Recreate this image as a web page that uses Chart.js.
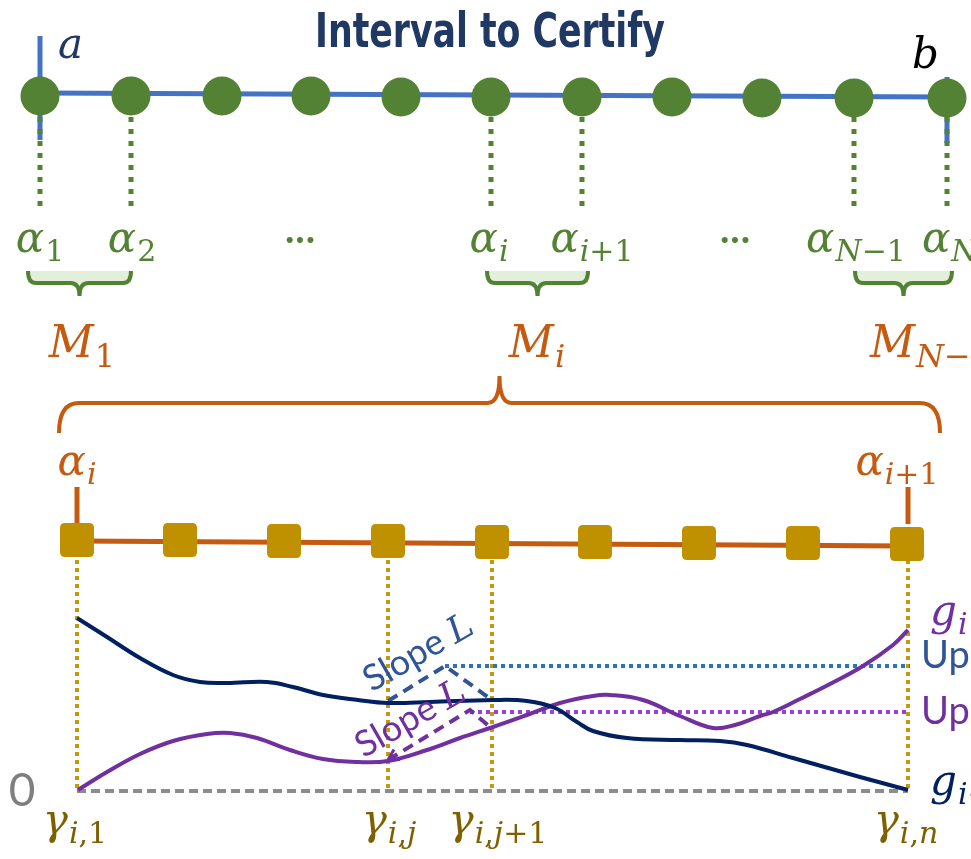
<!DOCTYPE html>
<html lang="en">
<head>
<meta charset="UTF-8">
<title>Interval to Certify</title>
<script src="https://cdn.jsdelivr.net/npm/chart.js@4.4.1/dist/chart.umd.min.js"></script>
<style>
  html, body { margin: 0; padding: 0; background: #fff; }
  #diagram { display: block; }
</style>
</head>
<body>
<canvas id="diagram" width="971" height="859"></canvas>
<script>
// ---- data (diagram units) ----
const alphaX = [40, 131, 222, 311, 401, 491, 582, 672, 762, 854, 947];
const alphaY = [96, 96, 96, 96, 97, 97, 97, 97, 98, 98, 98];
const alphaMarked = [40, 131, 491, 582, 854, 947];   // points with dotted drop lines

const gammaX = [77, 180, 284, 388, 492, 595, 699, 803, 907];
const gammaY = [540, 540, 541, 541, 542, 542, 543, 543, 544];
const gammaMarked = [77, 388, 492, 908];

const gPrevX = [77, 107, 140, 173, 200, 227, 267, 293, 323, 358, 388, 430, 493, 527, 555, 577, 593, 627, 680, 720, 747, 793, 860, 908];
const gPrevY = [618, 637, 658, 675, 682, 683, 682, 687, 695, 700, 703, 702, 700, 701, 708, 722, 731, 738, 740, 741, 745, 758, 777, 790];

const gCurX = [78, 107, 140, 173, 207, 230, 257, 290, 323, 358, 388, 427, 460, 493, 527, 560, 593, 610, 643, 680, 713, 735, 760, 773, 800, 830, 863, 893, 908];
const gCurY = [790, 772, 754, 741, 734, 733, 738, 750, 759, 762, 761, 750, 738, 727, 715, 703, 696, 695, 700, 716, 728, 725, 716, 712, 699, 684, 666, 645, 630];

const zeroLevel = 791;
const upPrev = 666;
const upCur = 712;

const slopePrev = [[388, 701], [445, 666], [492, 700]];
const slopeCur = [[388, 760], [470, 710], [490, 727]];

const braceSpans = [[28, 131], [487, 588], [855, 952]];

// ---- helpers ----
function pts(xs, ys) { return xs.map((x, i) => ({ x: x, y: ys[i] })); }
function segs(list) {
  const out = [];
  list.forEach(s => { out.push({ x: s[0][0], y: s[0][1] }, { x: s[1][0], y: s[1][1] }, { x: s[1][0], y: null }); });
  return out;
}
function lineSet(data, color, width, dash, order) {
  return { data: data, showLine: true, borderColor: color, borderWidth: width, borderDash: dash || [],
    pointRadius: 0, spanGaps: false, order: order, clip: false, borderCapStyle: 'butt' };
}

// rounded square marker
const sq = document.createElement('canvas');
sq.width = 36; sq.height = 36;
(function () {
  const c = sq.getContext('2d'), r = 5, s = 34, o = 1;
  c.fillStyle = '#bf9000';
  c.beginPath();
  c.moveTo(o + r, o); c.lineTo(o + s - r, o); c.quadraticCurveTo(o + s, o, o + s, o + r);
  c.lineTo(o + s, o + s - r); c.quadraticCurveTo(o + s, o + s, o + s - r, o + s);
  c.lineTo(o + r, o + s); c.quadraticCurveTo(o, o + s, o, o + s - r);
  c.lineTo(o, o + r); c.quadraticCurveTo(o, o, o + r, o);
  c.fill();
})();

const SERIF = '"DejaVu Serif", "Liberation Serif", serif';
const SANS = 'Lato, "Open Sans", sans-serif';

// draws  main_sub  with italic letters and upright digits in the subscript
function mathLabel(ctx, main, sub, x, base, color, size, align) {
  const subSize = Math.round(size * 0.72);
  const runs = [];
  if (sub) {
    sub.split('').forEach(ch => {
      const it = /[a-zA-Z]/.test(ch);
      if (runs.length && runs[runs.length - 1].it === it) runs[runs.length - 1].t += ch;
      else runs.push({ t: ch, it: it });
    });
  }
  ctx.save();
  ctx.fillStyle = color;
  ctx.textBaseline = 'alphabetic';
  ctx.textAlign = 'left';
  ctx.font = 'italic ' + size + 'px ' + SERIF;
  const mw = ctx.measureText(main).width;
  let total = mw + 1;
  runs.forEach(r => {
    ctx.font = (r.it ? 'italic ' : '') + subSize + 'px ' + SERIF;
    r.w = ctx.measureText(r.t).width;
    total += r.w;
  });
  let cx = align === 'left' ? x : x - total / 2;
  ctx.font = 'italic ' + size + 'px ' + SERIF;
  ctx.fillText(main, cx, base);
  cx += mw + 1;
  runs.forEach(r => {
    ctx.font = (r.it ? 'italic ' : '') + subSize + 'px ' + SERIF;
    ctx.fillText(r.t, cx, base + size * 0.22);
    cx += r.w;
  });
  ctx.restore();
}

const GREEN = '#548235', ORANGE = '#c55a11', GOLD = '#7f6000', NAVY = '#002060', PURPLE = '#7030a0';

const labels = [
  // main, sub, x, baseline, color, size, align
  ['α', '1', 40, 252, GREEN, 42], ['α', '2', 132, 252, GREEN, 42],
  ['α', 'i', 489, 252, GREEN, 42], ['α', 'i+1', 592, 252, GREEN, 42],
  ['α', 'N−1', 856, 252, GREEN, 42], ['α', 'N', 922, 252, GREEN, 42, 'left'],
  ['M', '1', 82, 357, ORANGE, 44], ['M', 'i', 537, 357, ORANGE, 44], ['M', 'N−1', 870, 357, ORANGE, 44, 'left'],
  ['α', 'i', 77, 475, ORANGE, 42], ['α', 'i+1', 897, 475, ORANGE, 42],
  ['γ', 'i,1', 75, 834, GOLD, 42], ['γ', 'i,j', 389, 834, GOLD, 42],
  ['γ', 'i,j+1', 498, 834, GOLD, 42], ['γ', 'i,n', 906, 834, GOLD, 42],
  ['g', 'i', 930, 625, PURPLE, 42, 'left'], ['g', 'i−1', 930, 795, NAVY, 42, 'left'],
  ['a', '', 58, 58, '#1f3864', 42, 'left'], ['b', '', 912, 68, '#000000', 42, 'left']
];

function brace(ctx, x0, x1, yEnd, yMid, yTip, r, rt) {
  const m = (x0 + x1) / 2;
  ctx.beginPath();
  ctx.moveTo(x0, yEnd);
  ctx.quadraticCurveTo(x0, yMid, x0 + r, yMid);
  ctx.lineTo(m - rt, yMid);
  ctx.quadraticCurveTo(m, yMid, m, yTip);
  ctx.quadraticCurveTo(m, yMid, m + rt, yMid);
  ctx.lineTo(x1 - r, yMid);
  ctx.quadraticCurveTo(x1, yMid, x1, yEnd);
  ctx.stroke();
}

const annotate = {
  id: 'annotate',
  afterDatasetsDraw(chart) {
    const ctx = chart.ctx, X = chart.scales.x, Y = chart.scales.y;
    const px = v => X.getPixelForValue(v), py = v => Y.getPixelForValue(v);
    ctx.save();

    // title
    ctx.fillStyle = '#1f3864';
    ctx.font = 'bold 48px "Liberation Sans Narrow", "DejaVu Sans Condensed", sans-serif';
    ctx.textAlign = 'center'; ctx.textBaseline = 'alphabetic';
    const tw = ctx.measureText('Interval to Certify').width;
    ctx.save(); ctx.translate(490, 47); ctx.scale(350 / tw, 1);
    ctx.fillText('Interval to Certify', 0, 0); ctx.restore();

    // green braces
    braceSpans.forEach(s => {
      ctx.fillStyle = '#e2efda';
      ctx.fillRect(px(s[0]), py(271), px(s[1]) - px(s[0]), py(283) - py(271));
      ctx.strokeStyle = GREEN; ctx.lineWidth = 4;
      brace(ctx, px(s[0]), px(s[1]), py(271), py(283), py(296), 8, 9);
    });
    // big orange brace
    ctx.strokeStyle = ORANGE; ctx.lineWidth = 4;
    brace(ctx, px(59), px(940), py(433), py(403), py(376), 20, 12);

    // ellipses
    ctx.fillStyle = GREEN; ctx.font = '40px ' + SANS; ctx.textAlign = 'center';
    ctx.fillText('···', px(300), py(252));
    ctx.fillText('···', px(735), py(252));

    labels.forEach(l => mathLabel(ctx, l[0], l[1], px(l[2]), py(l[3]), l[4], l[5], l[6]));

    // zero & Up labels
    ctx.textAlign = 'center'; ctx.fillStyle = '#7f7f7f';
    ctx.font = '46px "Liberation Sans Narrow", ' + SANS;
    ctx.fillText('0', px(22), py(806));
    ctx.textAlign = 'left'; ctx.font = '38px ' + SANS;
    ctx.fillStyle = '#2f5597'; ctx.fillText('Up', px(921), py(668));
    ctx.fillStyle = PURPLE; ctx.fillText('Up', px(921), py(724));

    // slope texts
    function slope(x, y, color) {
      ctx.save(); ctx.translate(px(x), py(y)); ctx.rotate(-30 * Math.PI / 180);
      ctx.fillStyle = color; ctx.textAlign = 'left';
      ctx.font = '36px ' + SANS;
      const w1 = ctx.measureText('Slope ').width;
      ctx.font = 'italic 36px ' + SERIF;
      const w2 = ctx.measureText('L').width;
      ctx.font = '36px ' + SANS;
      ctx.fillText('Slope ', -(w1 + w2) / 2, 12);
      ctx.font = 'italic 36px ' + SERIF;
      ctx.fillText('L', -(w1 + w2) / 2 + w1, 12);
      ctx.restore();
    }
    slope(418, 652, '#2f5597');
    slope(410, 718, PURPLE);

    // arrow head on the purple slope
    const a = slopeCur[0], b = slopeCur[1];
    const ang = Math.atan2(py(a[1]) - py(b[1]), px(a[0]) - px(b[0]));
    ctx.strokeStyle = PURPLE; ctx.lineWidth = 3;
    ctx.beginPath();
    ctx.moveTo(px(a[0]) - 12 * Math.cos(ang - 0.5), py(a[1]) - 12 * Math.sin(ang - 0.5));
    ctx.lineTo(px(a[0]), py(a[1]));
    ctx.lineTo(px(a[0]) - 12 * Math.cos(ang + 0.5), py(a[1]) - 12 * Math.sin(ang + 0.5));
    ctx.stroke();
    ctx.restore();
  }
};

const datasets = [
  lineSet([{ x: 40, y: 93 }, { x: 947, y: 97 }], '#4472c4', 5, null, 6),
  lineSet(segs([[[40, 36], [40, 140]], [[947, 77], [947, 143]]]), '#4472c4', 5, null, 6),
  lineSet(segs(alphaMarked.map(x => [[x, 117], [x, 206]])), GREEN, 5, [5, 7], 5),
  { data: pts(alphaX, alphaY), pointRadius: 19.5, pointBackgroundColor: GREEN, pointBorderWidth: 0,
    pointHoverRadius: 19.5, order: 0, clip: false },
  lineSet([{ x: 77, y: 541 }, { x: 907, y: 546 }], ORANGE, 5, null, 6),
  lineSet(segs([[[77, 487], [77, 524]], [[908, 487], [908, 524]]]), ORANGE, 5, null, 6),
  { data: pts(gammaX, gammaY), pointStyle: sq, pointRadius: 17, pointHoverRadius: 17, order: 0, clip: false },
  lineSet(segs(gammaMarked.map(x => [[x, 560], [x, zeroLevel]])), '#c49a0c', 4, [4, 4], 5),
  lineSet([{ x: 77, y: zeroLevel }, { x: 908, y: zeroLevel }], '#8c8c8c', 4, [9, 5], 4),
  lineSet([{ x: 445, y: upPrev }, { x: 910, y: upPrev }], '#2e75b6', 4, [4, 4], 3),
  lineSet([{ x: 470, y: upCur }, { x: 910, y: upCur }], '#9b3fe0', 4, [4, 4], 3),
  Object.assign(lineSet(pts(gPrevX, gPrevY), NAVY, 4, null, 1), { tension: 0.4 }),
  Object.assign(lineSet(pts(gCurX, gCurY), PURPLE, 4, null, 1), { tension: 0.4 }),
  lineSet(slopePrev.map(p => ({ x: p[0], y: p[1] })), '#2f5597', 4, [11, 7], 2),
  lineSet(slopeCur.map(p => ({ x: p[0], y: p[1] })), PURPLE, 4, [11, 7], 2)
];

new Chart(document.getElementById('diagram'), {
  type: 'scatter',
  data: { datasets: datasets },
  options: {
    responsive: false,
    animation: false,
    events: [],
    layout: { padding: 0, autoPadding: false },
    scales: {
      x: { type: 'linear', min: 0, max: 971, display: false },
      y: { type: 'linear', min: 0, max: 859, reverse: true, display: false }
    },
    plugins: { legend: { display: false }, tooltip: { enabled: false } }
  },
  plugins: [annotate]
});
</script>
</body>
</html>
